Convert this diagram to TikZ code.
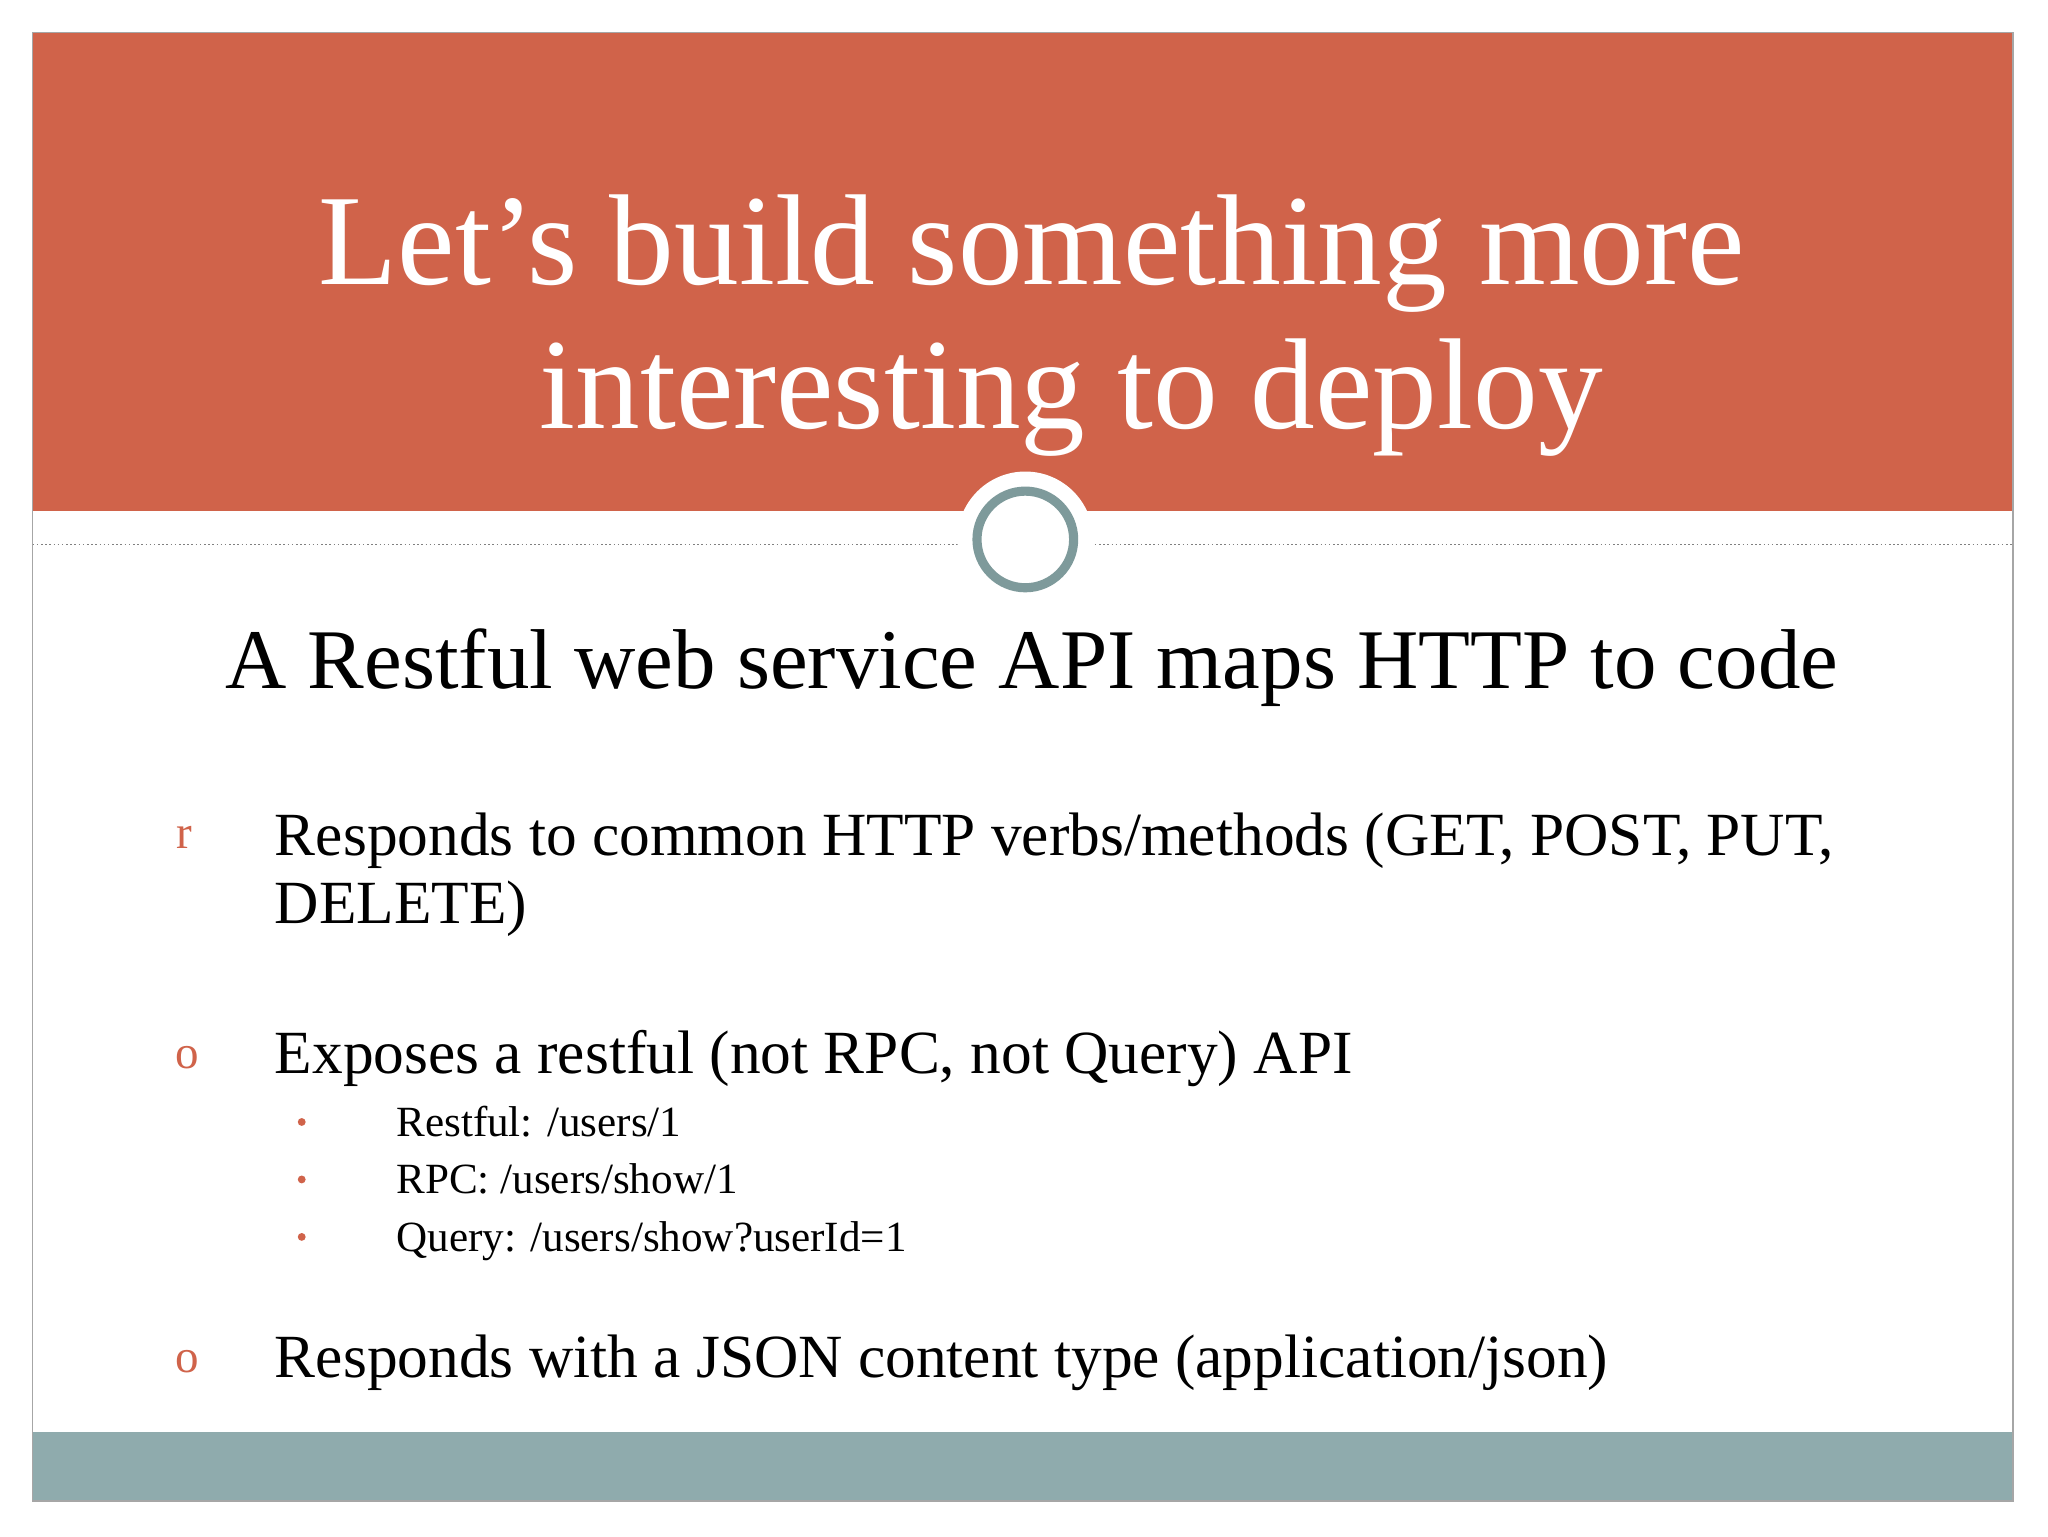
\documentclass[tikz,border=0pt]{standalone}
\usepackage{fontspec}
\setmainfont{Liberation Serif}
\definecolor{orng}{HTML}{D0634A}
\definecolor{teal}{HTML}{7E9A9B}
\definecolor{band}{HTML}{8FABAD}
\tikzset{
  title/.style={text=white,font=\fontsize{99}{110}\selectfont,anchor=base},
  lvl1/.style={anchor=base west,font=\fontsize{47}{52}\selectfont},
  lvl2/.style={anchor=base west,font=\fontsize{33}{38}\selectfont},
  mark1/.style={anchor=base,text=orng,font=\fontsize{36}{40}\selectfont},
}
\begin{document}
\begin{tikzpicture}[x=1pt,y=-1pt]
\useasboundingbox (0,0) rectangle (1568,1176);
\fill[white] (0,0) rectangle (1568,1176);
\fill[orng] (25,25) rectangle (1541,391);
\fill[band] (25,1096) rectangle (1541,1149);
\draw[gray!70,line width=1.2] (25,25) rectangle (1541,1149);
\draw[gray,dotted,line width=1.2] (25,417) -- (735,417) (835,417) -- (1541,417);
\fill[white] (785,413) circle (52);
\node[circle,draw=teal,line width=7,minimum size=74] (c) at (785,413) {};
\node[title] (t1) at (790,218) {Let’s build something more};
\node[title] (t2) at (820,328) {interesting to deploy};
\node[anchor=base,font=\fontsize{65}{70}\selectfont] (sub) at (790,527) {A Restful web service API maps HTTP to code};
\node[mark1] (m1) at (141,650) {r};
\node[lvl1] (b1) at (207,655) {Responds to common HTTP verbs/methods (GET, POST, PUT,};
\node[lvl1] (b1b) at (207,707) {DELETE)};
\node[mark1] (m2) at (143,818) {o};
\node[lvl1] (b2) at (207,822) {Exposes a restful (not RPC, not Query) API};
\foreach \y/\t/\n in {870/{Restful: /users/1}/s1,914/{RPC: /users/show/1}/s2,958/{Query: /users/show?userId=1}/s3}{
  \fill[orng] (231,\y-11) circle (3);
  \node[lvl2] (\n) at (300,\y) {\t};
}
\node[mark1] (m3) at (143,1051) {o};
\node[lvl1] (b3) at (207,1055) {Responds with a JSON content type (application/json)};
\end{tikzpicture}
\end{document}
